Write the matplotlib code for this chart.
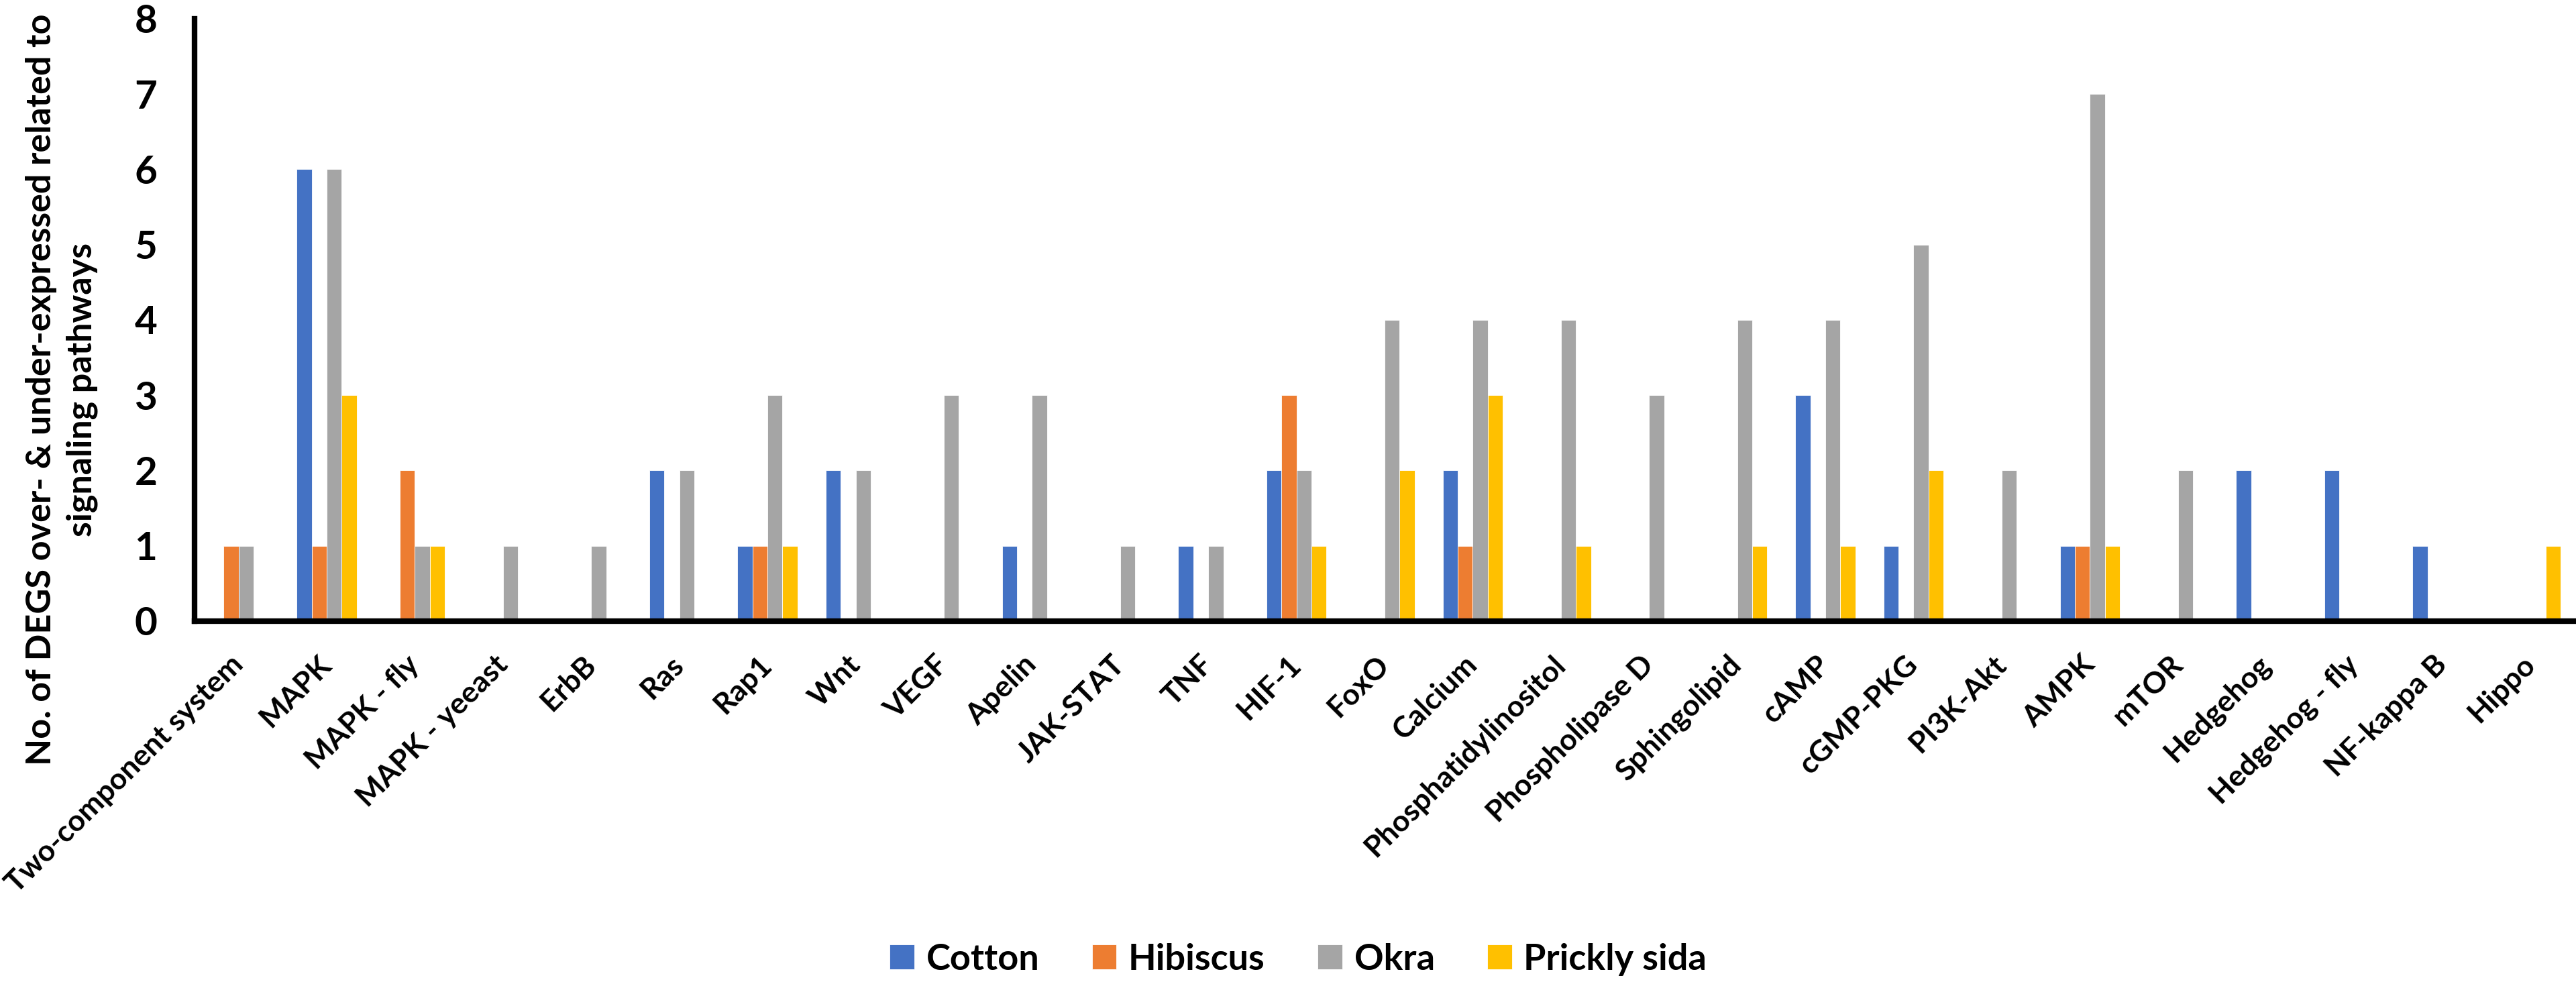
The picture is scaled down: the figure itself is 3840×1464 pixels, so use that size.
import matplotlib
matplotlib.use("Agg")
import matplotlib.pyplot as plt
import numpy as np

plt.rcParams['font.family'] = ['Lato', 'DejaVu Sans']

pathways = ['Two-component system', 'MAPK', 'MAPK - fly', 'MAPK - yeeast', 'ErbB',
            'Ras', 'Rap1', 'Wnt', 'VEGF', 'Apelin', 'JAK-STAT', 'TNF', 'HIF-1',
            'FoxO', 'Calcium', 'Phosphatidylinositol', 'Phospholipase D',
            'Sphingolipid', 'cAMP', 'cGMP-PKG', 'PI3K-Akt', 'AMPK', 'mTOR',
            'Hedgehog', 'Hedgehog - fly', 'NF-kappa B', 'Hippo']

cotton   = [0, 6, 0, 0, 0, 2, 1, 2, 0, 1, 0, 1, 2, 0, 2, 0, 0, 0, 3, 1, 0, 1, 0, 2, 2, 1, 0]
hibiscus = [1, 1, 2, 0, 0, 0, 1, 0, 0, 0, 0, 0, 3, 0, 1, 0, 0, 0, 0, 0, 0, 1, 0, 0, 0, 0, 0]
okra     = [1, 6, 1, 1, 1, 2, 3, 2, 3, 3, 1, 1, 2, 4, 4, 4, 3, 4, 4, 5, 2, 7, 2, 0, 0, 0, 0]
prickly  = [0, 3, 1, 0, 0, 0, 1, 0, 0, 0, 0, 0, 1, 2, 3, 1, 0, 1, 1, 2, 0, 1, 0, 0, 0, 0, 1]

series = [('Cotton', cotton, '#4472C4'),
          ('Hibiscus', hibiscus, '#ED7D31'),
          ('Okra', okra, '#A5A5A5'),
          ('Prickly sida', prickly, '#FFC000')]

fig = plt.figure(figsize=(38.4, 14.64), dpi=100)
ax = fig.add_axes([0.0755, 0.3675, 0.924, 0.6135])

x = np.arange(len(pathways))
w = 0.17
for i, (name, vals, col) in enumerate(series):
    ax.bar(x + (i - 1.5) * w, vals, w, color=col, label=name,
           edgecolor='white', linewidth=0.6, zorder=2)

ax.set_xlim(-0.5, len(pathways) - 0.5)
ax.set_ylim(0, 8)
ax.set_yticks(range(0, 9))
for s in ['top', 'right']:
    ax.spines[s].set_visible(False)
for s in ['left', 'bottom']:
    ax.spines[s].set_linewidth(6)
    ax.spines[s].set_zorder(3)

ax.tick_params(axis='y', length=0, pad=40, labelsize=42)
ax.tick_params(axis='x', length=0, pad=42)
for lab in ax.get_yticklabels():
    lab.set_fontweight('bold')

ax.set_xticks(x)
ax.set_xticklabels(pathways, rotation=45, ha='right', va='center',
                   rotation_mode='anchor', fontsize=32, fontweight='bold')

fig.text(92 / 3840, 1 - 581 / 1464,
         'No. of DEGS over- & under-expressed related to\nsignaling pathways',
         rotation=90, ha='center', va='center', multialignment='center',
         fontsize=37.5, fontweight='bold', linespacing=1.38)

fig.legend(loc='center', bbox_to_anchor=(0.504, 0.023), ncol=4, frameon=False,
           prop={'size': 39, 'weight': 'bold'}, handlelength=0.67,
           handleheight=0.67, handletextpad=0.33, columnspacing=1.45)

fig.savefig('out.png', dpi=100)
